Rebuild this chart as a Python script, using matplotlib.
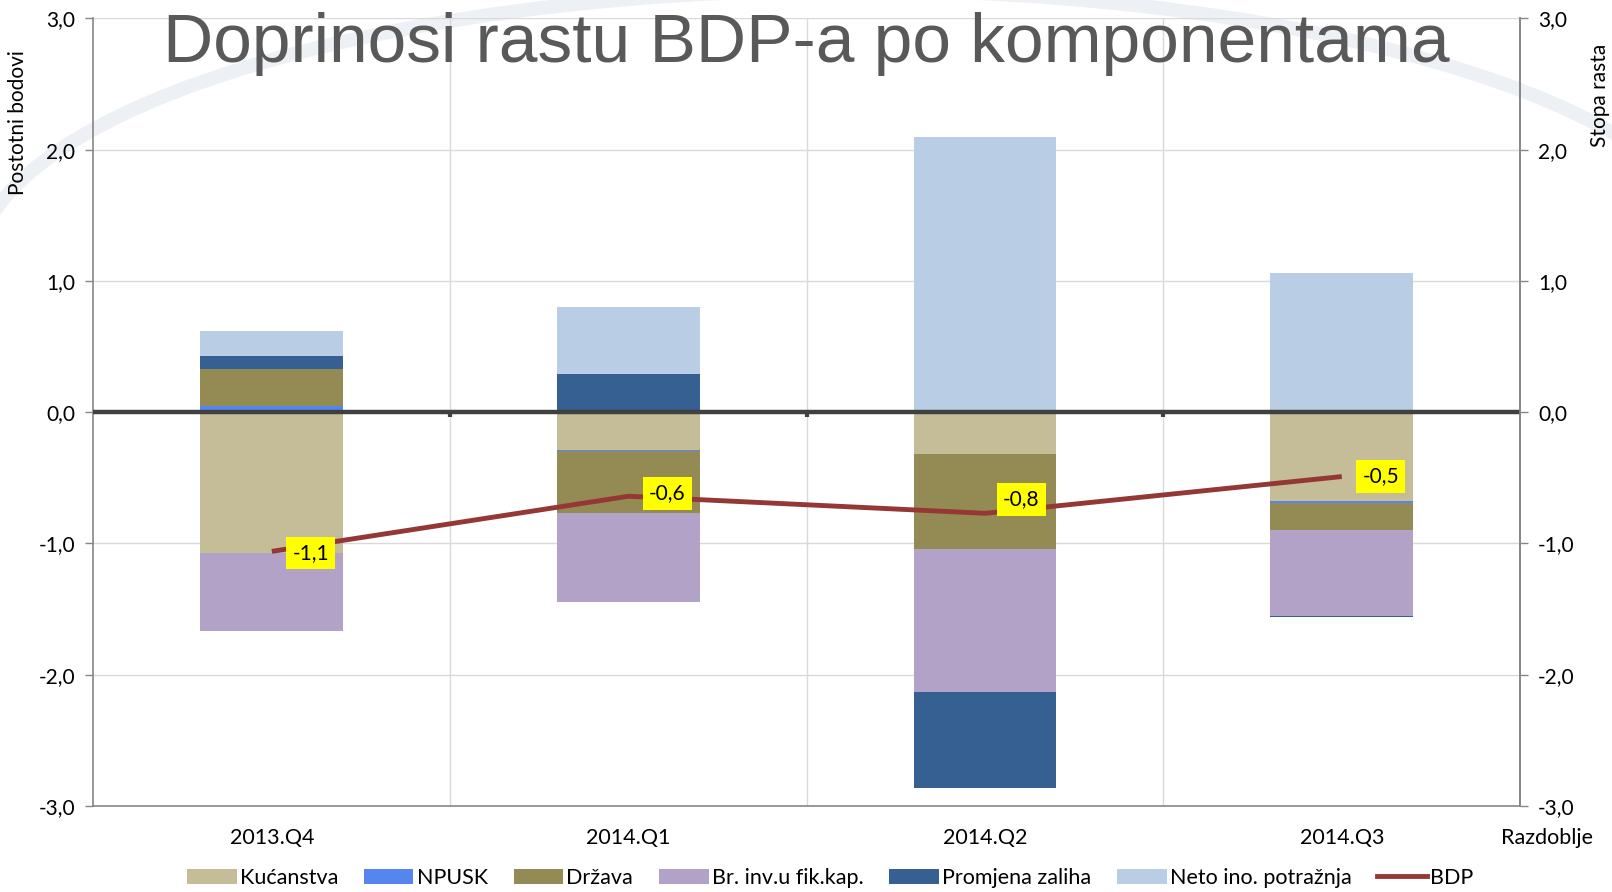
import numpy as np
import matplotlib
matplotlib.use("Agg")
from matplotlib import pyplot as plt
from matplotlib.patches import Patch, Arc
from matplotlib.lines import Line2D
from matplotlib.transforms import IdentityTransform

plt.rcParams['font.family'] = ['Lato', 'DejaVu Sans']

periods = ["2013.Q4", "2014.Q1", "2014.Q2", "2014.Q3"]
kucanstva = [-1.07, -0.29, -0.32, -0.68]
npusk = [0.05, -0.005, 0.0, -0.01]
drzava = [0.28, -0.47, -0.72, -0.21]
br_inv = [-0.60, -0.68, -1.09, -0.65]
promjena = [0.10, 0.29, -0.73, -0.01]
neto = [0.19, 0.51, 2.10, 1.06]
bdp = [-1.06, -0.64, -0.77, -0.49]
bdp_labels = ["-1,1", "-0,6", "-0,8", "-0,5"]

series_names = ["Kućanstva", "NPUSK", "Država", "Br. inv.u fik.kap.",
                "Promjena zaliha", "Neto ino. potražnja"]
series_vals = [kucanstva, npusk, drzava, br_inv, promjena, neto]
colors = ["#C4BD97", "#5586F0", "#948A54", "#B3A2C7", "#376092", "#B9CDE5"]
line_color = "#953735"
grid_c = "#D9D9D9"
axis_c = "#868686"

fig = plt.figure(figsize=(16.12, 8.92), dpi=100)

# faint background swoosh from the slide template (upper arc only)
fig.add_artist(Arc((850, 892 - 270), 1750, 560, theta1=0, theta2=180,
                   ec='#EDF1F5', lw=10, transform=IdentityTransform(), zorder=0))

ax = fig.add_axes([0.058, 0.0964, 0.885, 0.8829])
ax.patch.set_alpha(0)

x = np.arange(len(periods))
pos_bottom = np.zeros(len(periods))
neg_bottom = np.zeros(len(periods))
for name, vals, c in zip(series_names, series_vals, colors):
    v = np.array(vals)
    bottom = np.where(v >= 0, pos_bottom, neg_bottom)
    ax.bar(x, v, 0.4, bottom=bottom, color=c, zorder=3)
    pos_bottom = pos_bottom + np.where(v >= 0, v, 0)
    neg_bottom = neg_bottom + np.where(v < 0, v, 0)

ax.plot(x, bdp, color=line_color, lw=3.5, zorder=5, solid_capstyle='butt')
label_offsets = [(28, -1), (28, 2), (26, 10), (28, 0)]
for xi, yi, lab, off in zip(x, bdp, bdp_labels, label_offsets):
    ax.annotate(lab, (xi, yi), xytext=off, textcoords='offset points',
                ha='center', va='center', fontsize=15, color='black', zorder=6,
                bbox=dict(boxstyle='square,pad=0.3', fc='#FFFF00', ec='none'))

# zero line with small tick marks
ax.axhline(0, color='#404040', lw=3.2, zorder=4)
ax.vlines([0.5, 1.5, 2.5], -0.04, 0, color='#404040', lw=3, zorder=4)

ax.set_xlim(-0.5, 3.5)
ax.set_ylim(-3, 3)
yt = np.arange(-3, 4)
ytl = [f"{v:.1f}".replace('.', ',') for v in yt]
ax.set_yticks(yt)
ax.set_yticklabels(ytl, fontsize=15, color='#000000')
ax.set_xticks(x)
ax.set_xticklabels(periods, fontsize=15.5)
ax.tick_params(axis='x', length=0, pad=16)
ax.tick_params(axis='y', length=6, color=axis_c, width=1, pad=7)
for yv in [-2, -1, 1, 2, 3]:
    ax.axhline(yv, color=grid_c, lw=1, zorder=1)
for xv in [0.5, 1.5, 2.5]:
    ax.axvline(xv, color=grid_c, lw=1, zorder=1)
ax.spines['top'].set_visible(False)
for s in ['left', 'right', 'bottom']:
    ax.spines[s].set_color(axis_c)
    ax.spines[s].set_linewidth(1.2)

ax2 = ax.twinx()
ax2.set_ylim(-3, 3)
ax2.set_yticks(yt)
ax2.set_yticklabels(ytl, fontsize=15)
ax2.tick_params(axis='y', length=6, color=axis_c, width=1, pad=7)
for s in ['top', 'left', 'bottom']:
    ax2.spines[s].set_visible(False)
ax2.spines['right'].set_color(axis_c)
ax2.spines['right'].set_linewidth(1.2)

fig.text(0.5, 1 - 44 / 892, "Doprinosi rastu BDP-a po komponentama",
         ha='center', va='center', fontsize=50, color='#595959',
         family=['Liberation Sans', 'DejaVu Sans'])
fig.text(18.5 / 1612, 1 - 123 / 892, "Postotni bodovi", rotation=90,
         ha='center', va='center', fontsize=15)
fig.text(1600 / 1612, 1 - 95 / 892, "Stopa rasta", rotation=90,
         ha='center', va='center', fontsize=15)
fig.text(1547 / 1612, 1 - 838 / 892, "Razdoblje",
         ha='center', va='center', fontsize=15.5)

handles = [Patch(facecolor=c, edgecolor='none') for c in colors]
handles.append(Line2D([0], [0], color=line_color, lw=3.5))
labels = series_names + ["BDP"]
fig.legend(handles, labels, loc='center', bbox_to_anchor=(0.515, 1 - 878 / 892),
           ncol=7, frameon=False, fontsize=15.5, handlelength=2.3,
           handleheight=0.7, handletextpad=0.15, columnspacing=1.2)

fig.savefig("out.png", dpi=100)
